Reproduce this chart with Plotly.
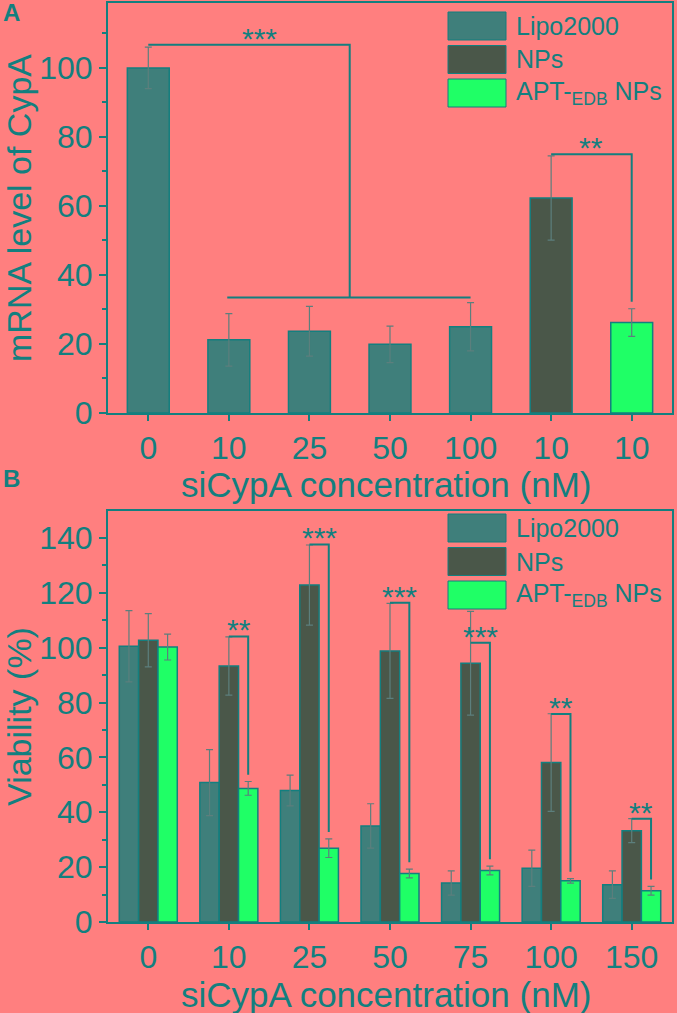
import plotly.graph_objects as go

W, H = 677, 1013

# Panel A: mRNA level of CypA
a_labels = ["0", "10", "25", "50", "100", "10", "10"]
a_lipo = [100.0, 21.2, 23.7, 19.9, 25.0]
a_lipo_err = [6.0, 7.6, 7.2, 5.3, 7.0]
a_nps = [62.3]
a_nps_err = [12.2]
a_apt = [26.2]
a_apt_err = [4.0]

# Panel B: viability
b_labels = ["0", "10", "25", "50", "75", "100", "150"]
b_lipo = [100.5, 50.8, 47.9, 35.0, 14.2, 19.6, 13.6]
b_lipo_err = [13.0, 12.0, 5.6, 8.1, 4.4, 6.6, 5.0]
b_nps = [102.7, 93.3, 122.8, 98.8, 94.3, 58.1, 33.3]
b_nps_err = [9.7, 10.6, 14.6, 17.3, 18.9, 17.8, 4.4]
b_apt = [100.2, 48.7, 26.9, 17.7, 18.8, 15.0, 11.4]
b_apt_err = [4.7, 2.5, 3.4, 1.6, 1.6, 0.8, 1.6]
b_sig = ["", "**", "***", "***", "***", "**", "**"]
b_sig_top = [None, 104.1, 137.6, 116.4, 101.8, 75.8, 37.6]

series_names = ["Lipo2000", "NPs", "APT-<sub>EDB</sub> NPs"]
x_title = "siCypA concentration (nM)"

BG = "#FF7F7F"
TEAL = "#137F7F"
LIPO = "#3F7F7B"
NPS = "#4A5749"
APT = "#1FFF66"
ERR = "#5C7F7D"
colors = [LIPO, NPS, APT]
FONT = "Liberation Sans, Arial, sans-serif"


def px_x(x):
    return x / W


def px_y(y):
    return 1 - y / H


def err(arr):
    return dict(type="data", array=arr, color=ERR, thickness=1.2, width=3.5)


fig = go.Figure()

# ---- panel A bars
wa = 0.52
xa = list(range(len(a_labels)))
fig.add_trace(go.Bar(x=xa[:5], y=a_lipo, error_y=err(a_lipo_err), name=series_names[0],
                     marker=dict(color=LIPO, line=dict(color=TEAL, width=1.5)),
                     width=wa, offset=-wa / 2, xaxis="x", yaxis="y", showlegend=False))
fig.add_trace(go.Bar(x=xa[5:6], y=a_nps, error_y=err(a_nps_err), name=series_names[1],
                     marker=dict(color=NPS, line=dict(color=TEAL, width=1.5)),
                     width=wa, offset=-wa / 2, xaxis="x", yaxis="y", showlegend=False))
fig.add_trace(go.Bar(x=xa[6:7], y=a_apt, error_y=err(a_apt_err), name=series_names[2],
                     marker=dict(color=APT, line=dict(color=TEAL, width=1.5)),
                     width=wa, offset=-wa / 2, xaxis="x", yaxis="y", showlegend=False))

# ---- panel B bars
wb = 0.24
xb = list(range(len(b_labels)))
for k, (vals, errs) in enumerate([(b_lipo, b_lipo_err), (b_nps, b_nps_err), (b_apt, b_apt_err)]):
    fig.add_trace(go.Bar(x=xb, y=vals, error_y=err(errs), name=series_names[k],
                         marker=dict(color=colors[k], line=dict(color=TEAL, width=1.5)),
                         width=wb, offset=-1.5 * wb + k * wb, xaxis="x2", yaxis="y2",
                         showlegend=False))

shapes = []
annotations = []
line = dict(color=TEAL, width=2)

# significance panel A: Lipo 0 nM vs Lipo 10-100 nM
top_a = a_lipo[0] + a_lipo_err[0] + 0.7
low_a = max(v + e for v, e in zip(a_lipo[1:], a_lipo_err[1:])) + 1.5
mid_a = (xa[1] + xa[4]) / 2
shapes.append(dict(type="path", xref="x", yref="y", line=line,
                   path=f"M {xa[0]},{top_a} L {mid_a},{top_a} L {mid_a},{low_a}"))
shapes.append(dict(type="line", xref="x", yref="y", line=line,
                   x0=xa[1] - 0.02, x1=xa[4], y0=low_a, y1=low_a))
annotations.append(dict(x=1.38, y=top_a, xref="x", yref="y", text="***", showarrow=False,
                        yanchor="bottom", yshift=-12, font=dict(size=30, color=TEAL)))
# NPs vs APT in panel A
top_a2 = a_nps[0] + a_nps_err[0] + 0.5
shapes.append(dict(type="path", xref="x", yref="y", line=line,
                   path=f"M {xa[5]},{top_a2} L {xa[6]},{top_a2} L {xa[6]},{a_apt[0] + a_apt_err[0] + 2}"))
annotations.append(dict(x=(xa[5] + xa[6]) / 2, y=top_a2, xref="x", yref="y", text="**",
                        showarrow=False, yanchor="bottom", yshift=-12,
                        font=dict(size=30, color=TEAL)))

# significance panel B: NPs vs APT per concentration
for i, s in enumerate(b_sig):
    if not s:
        continue
    xl = xb[i]
    xr = xb[i] + wb
    yt = b_sig_top[i]
    yb = b_apt[i] + b_apt_err[i] + 2.5
    shapes.append(dict(type="path", xref="x2", yref="y2", line=line,
                       path=f"M {xl},{yt} L {xr},{yt} L {xr},{yb}"))
    annotations.append(dict(x=(xl + xr) / 2, y=yt, xref="x2", yref="y2", text=s,
                            showarrow=False, yanchor="bottom", yshift=-12,
                            font=dict(size=30, color=TEAL)))

# hand-drawn legends with big swatches
for top in (12, 514):
    for k, name in enumerate(series_names):
        y0 = top + k * 33.5
        shapes.append(dict(type="rect", xref="paper", yref="paper",
                           x0=px_x(448), x1=px_x(506), y0=px_y(y0), y1=px_y(y0 + 28),
                           fillcolor=colors[k], line=dict(color=TEAL, width=1)))
        annotations.append(dict(x=px_x(514), y=px_y(y0 + 14), xref="paper", yref="paper",
                                text=name, showarrow=False, xanchor="left", yanchor="middle",
                                font=dict(size=25, color=TEAL)))

# panel letters
annotations.append(dict(x=0.002, y=px_y(13), xref="paper", yref="paper", text="<b>A</b>",
                        showarrow=False, xanchor="left", yanchor="middle",
                        font=dict(size=24, color=TEAL)))
annotations.append(dict(x=0.002, y=px_y(478), xref="paper", yref="paper", text="<b>B</b>",
                        showarrow=False, xanchor="left", yanchor="middle",
                        font=dict(size=24, color=TEAL)))

# x axis titles
xdom = [px_x(108), px_x(672)]
for yc in (485, 994):
    annotations.append(dict(x=(xdom[0] + xdom[1]) / 2 - 0.006, y=px_y(yc), xref="paper",
                            yref="paper", text=x_title, showarrow=False, xanchor="center",
                            yanchor="middle", font=dict(size=35, color=TEAL)))

common = dict(showline=True, linecolor=TEAL, linewidth=2, mirror=True, ticks="outside",
              tickcolor=TEAL, tickwidth=2, showgrid=False, zeroline=False,
              tickfont=dict(size=32, color=TEAL), automargin=False)
xcommon = dict(common, range=[-0.5, 6.5], ticklen=6, tickvals=xa)
ycommon = dict(common, ticklen=7, dtick=20,
               minor=dict(ticks="outside", ticklen=4, dtick=10, tickcolor=TEAL, tickwidth=2))

fig.update_layout(
    width=W, height=H,
    margin=dict(l=0, r=0, t=0, b=0),
    paper_bgcolor=BG, plot_bgcolor=BG,
    font=dict(family=FONT, color=TEAL),
    barmode="overlay",
    showlegend=False,
    xaxis=dict(xcommon, domain=xdom, anchor="y", ticktext=a_labels),
    yaxis=dict(ycommon, domain=[px_y(413), px_y(3)], anchor="x", range=[0, 118.8],
               title=dict(text="mRNA level of CypA", font=dict(size=34, color=TEAL), standoff=8)),
    xaxis2=dict(xcommon, domain=xdom, anchor="y2", ticktext=b_labels),
    yaxis2=dict(ycommon, domain=[px_y(922), px_y(511)], anchor="x2", range=[0, 149.8],
                title=dict(text="Viability (%)", font=dict(size=34, color=TEAL), standoff=8)),
    shapes=shapes,
    annotations=annotations,
)

fig.write_html("out.html", config={"displayModeBar": False},
               post_script="document.body.style.margin='0';"
               "document.body.style.overflow='hidden';")
